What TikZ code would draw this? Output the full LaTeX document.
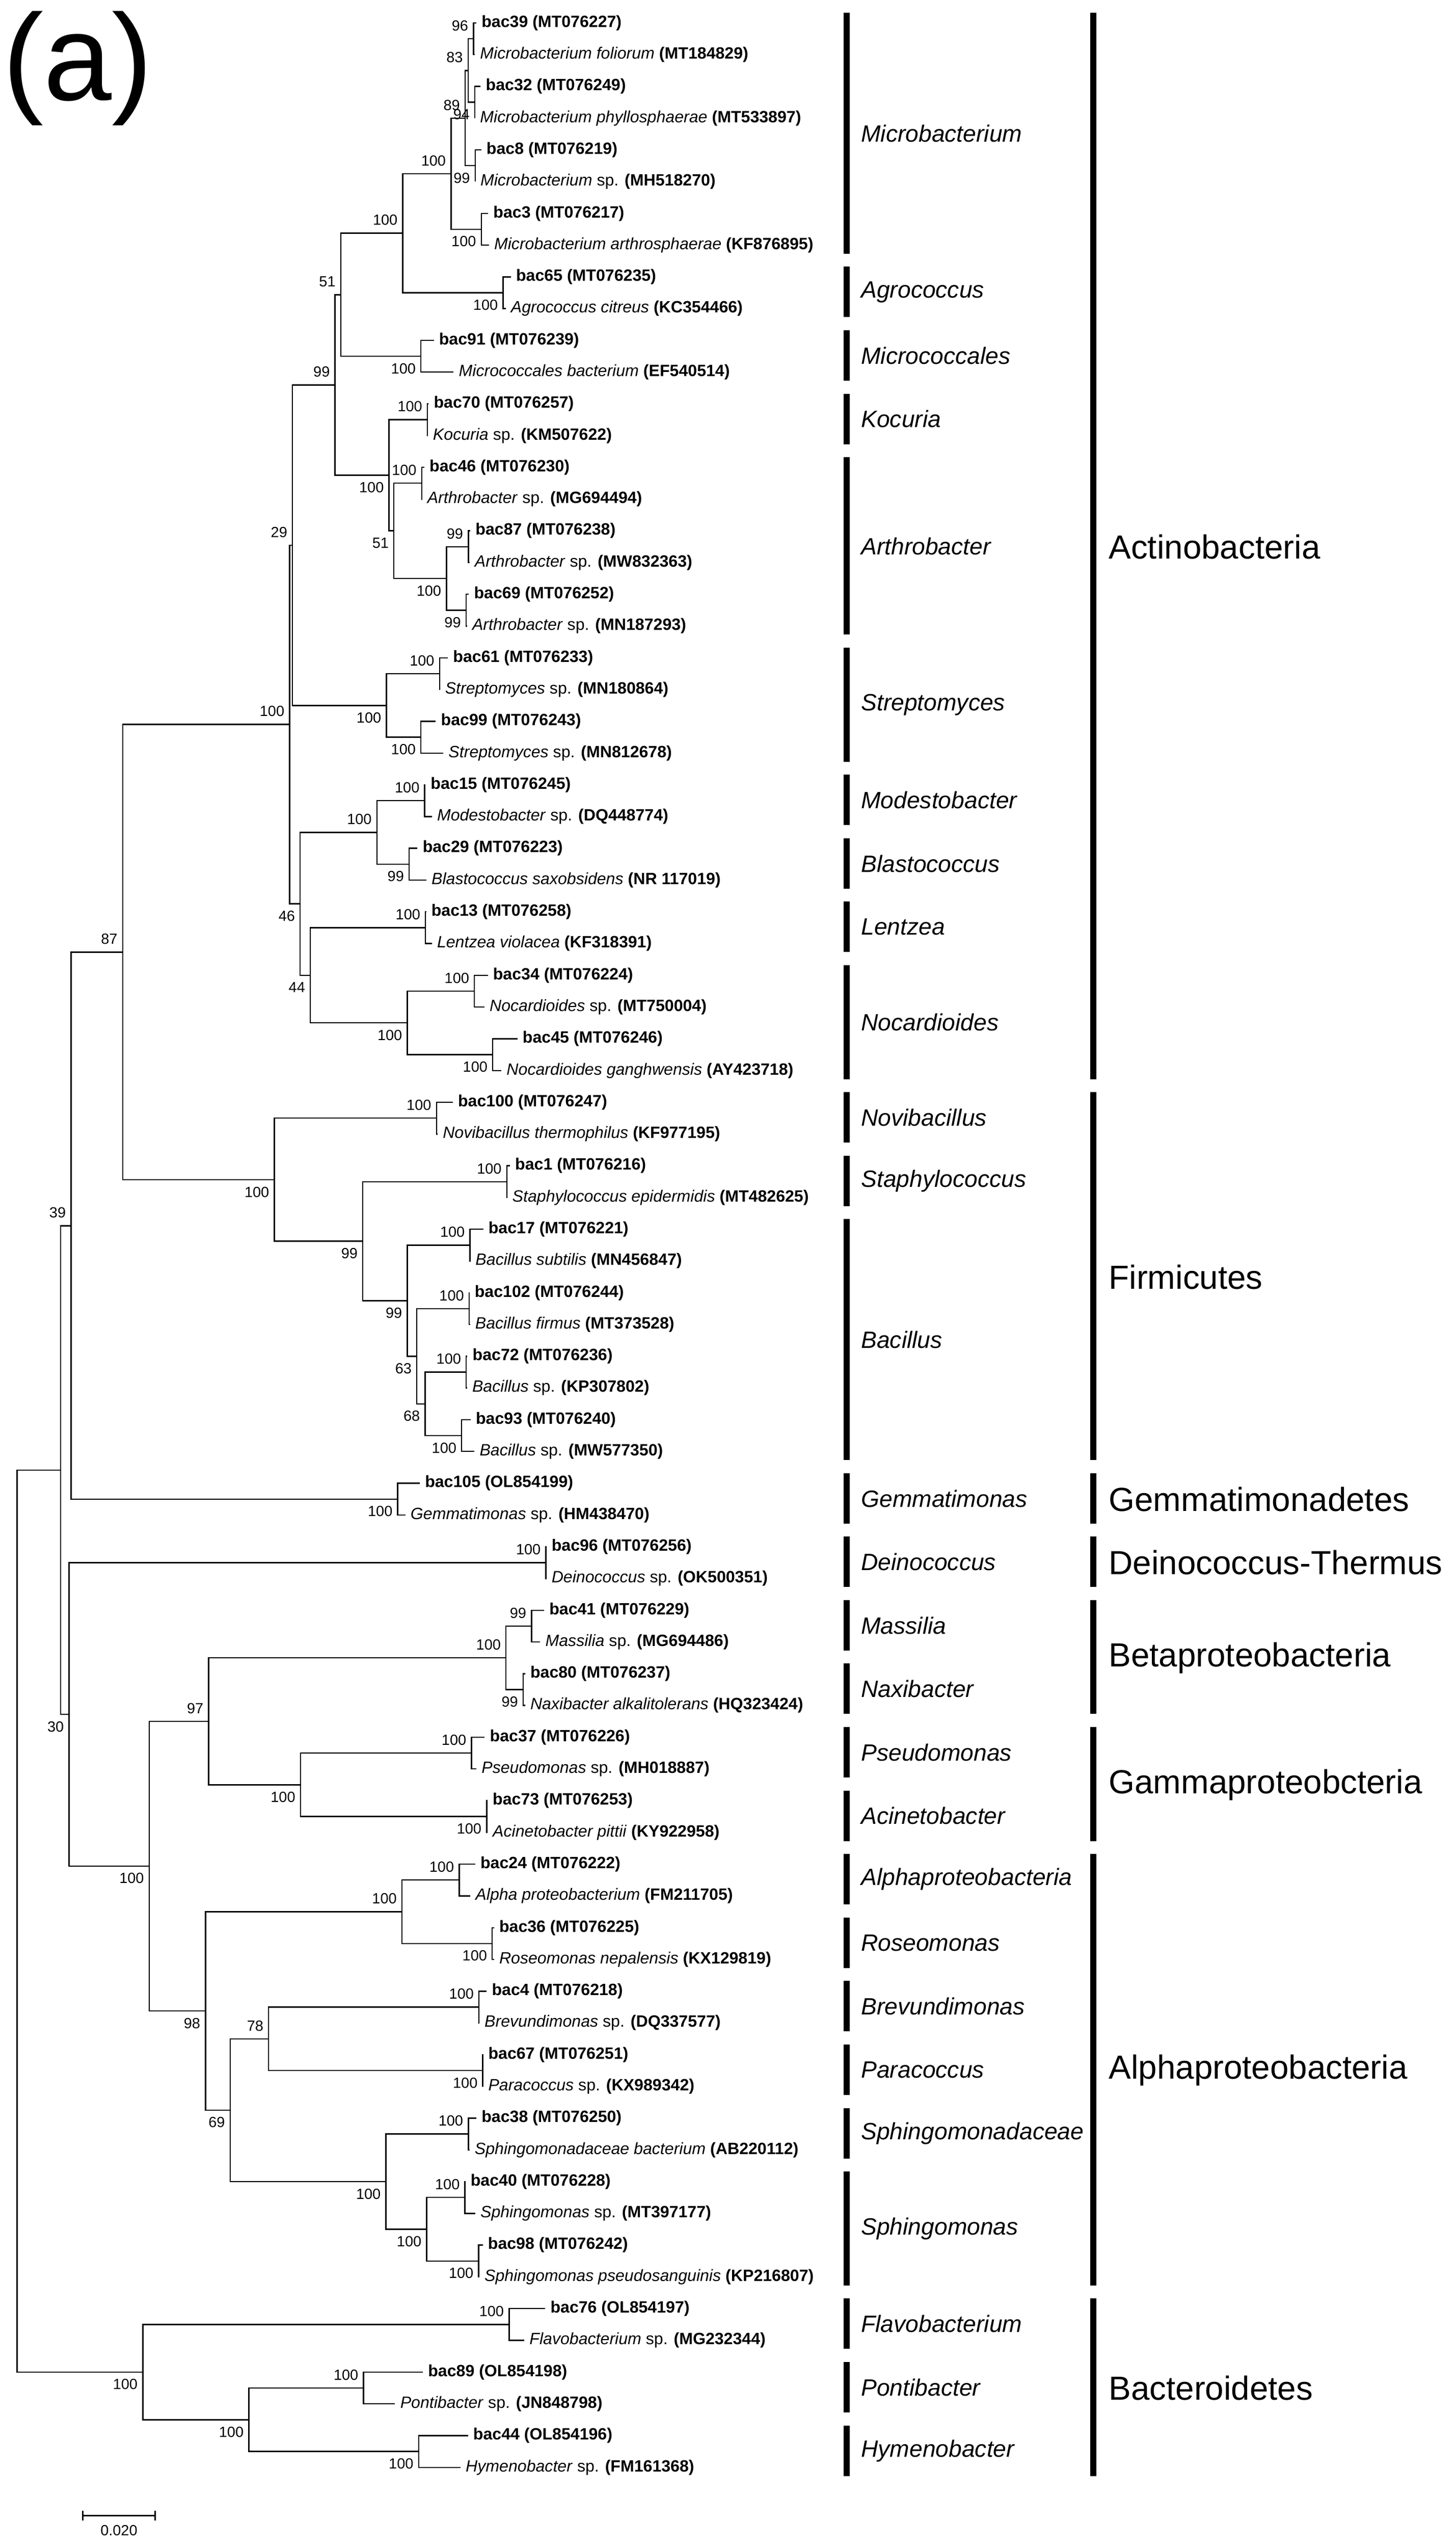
\documentclass[tikz,border=0pt]{standalone}
\usepackage{fontspec}
\setmainfont{Liberation Sans}
\newcommand\lbac[2]{\textbf{#1 (#2)}}
\newcommand\lspe[2]{\textit{#1} \textbf{(#2)}}
\newcommand\lspp[2]{\textit{#1} sp. \textbf{(#2)}}
\tikzset{
  br/.style={line width=0.75pt},
  leaf/.style={anchor=west,inner sep=0pt,xshift=3pt,font=\fontsize{10}{12}\selectfont},
  bsa/.style={anchor=east,inner sep=0pt,xshift=-3pt,yshift=8pt,font=\fontsize{9}{10}\selectfont},
  bsb/.style={anchor=east,inner sep=0pt,xshift=-3pt,yshift=-7.5pt,font=\fontsize{9}{10}\selectfont},
  cbar/.style={line width=3.9pt},
  cname/.style={anchor=west,inner sep=0pt,font=\fontsize{14.4}{16}\selectfont\itshape},
  pname/.style={anchor=west,inner sep=0pt,font=\fontsize{20.4}{22}\selectfont},
}
\newcommand\lf[4]{\coordinate (#1) at (#2,#3); \node[leaf] (#1L) at (#1) {#4};}
\newcommand\bn[5]{\coordinate (#1) at (#2,#3); \node[bs#5] (#1b) at (#1) {#4};}
\newcommand\ee[3]{\draw[br] (#1) |- (#2); \draw[br] (#1) |- (#3);}
\newcommand\clade[4]{\draw[cbar] (517.5,#2-0.32) coordinate (#1t) -- (517.5,#3+0.27) coordinate (#1e);
  \node[cname] (#1n) at (526.2,{(#2+#3)/2-0.02}) {#4};}
\newcommand\phyl[4]{\draw[cbar] (668.3,#2-0.32) coordinate (#1t) -- (668.3,#3+0.27) coordinate (#1e);
  \node[pname] (#1n) at (677.6,{(#2+#3)/2}) {#4};}
\begin{document}
\begin{tikzpicture}[x=1pt,y=1pt]
\useasboundingbox (0,0) rectangle (890,-1557.1);
\fill[white] (0,0) rectangle (890,-1557.1);
\node[anchor=base west,inner sep=0pt,font=\fontsize{75}{80}\selectfont] (alab) at (1.5,-61.2) {(a)};
\begin{scope}[x=1pt,y=-19.4pt,yshift=5.4pt]
% leaves
\lf{L1}{291.2}{1}{\lbac{bac39}{MT076227}}
\lf{L2}{290.3}{2}{\lspe{Microbacterium foliorum}{MT184829}}
\lf{L3}{293.8}{3}{\lbac{bac32}{MT076249}}
\lf{L4}{290.3}{4}{\lspe{Microbacterium phyllosphaerae}{MT533897}}
\lf{L5}{294.2}{5}{\lbac{bac8}{MT076219}}
\lf{L6}{290.5}{6}{\lspp{Microbacterium}{MH518270}}
\lf{L7}{298.4}{7}{\lbac{bac3}{MT076217}}
\lf{L8}{298.9}{8}{\lspe{Microbacterium arthrosphaerae}{KF876895}}
\lf{L9}{312.3}{9}{\lbac{bac65}{MT076235}}
\lf{L10}{309.1}{10}{\lspe{Agrococcus citreus}{KC354466}}
\lf{L11}{265.2}{11}{\lbac{bac91}{MT076239}}
\lf{L12}{277.3}{12}{\lspe{Micrococcales bacterium}{EF540514}}
\lf{L13}{262}{13}{\lbac{bac70}{MT076257}}
\lf{L14}{261.5}{14}{\lspp{Kocuria}{KM507622}}
\lf{L15}{259.4}{15}{\lbac{bac46}{MT076230}}
\lf{L16}{258}{16}{\lspp{Arthrobacter}{MG694494}}
\lf{L17}{287.5}{17}{\lbac{bac87}{MT076238}}
\lf{L18}{287}{18}{\lspp{Arthrobacter}{MW832363}}
\lf{L19}{286.6}{19}{\lbac{bac69}{MT076252}}
\lf{L20}{285.5}{20}{\lspp{Arthrobacter}{MN187293}}
\lf{L21}{273.8}{21}{\lbac{bac61}{MT076233}}
\lf{L22}{268.9}{22}{\lspp{Streptomyces}{MN180864}}
\lf{L23}{266.4}{23}{\lbac{bac99}{MT076243}}
\lf{L24}{271}{24}{\lspp{Streptomyces}{MN812678}}
\lf{L25}{260.1}{25}{\lbac{bac15}{MT076245}}
\lf{L26}{264}{26}{\lspp{Modestobacter}{DQ448774}}
\lf{L27}{255.2}{27}{\lbac{bac29}{MT076223}}
\lf{L28}{260.6}{28}{\lspe{Blastococcus saxobsidens}{NR 117019}}
\lf{L29}{260.5}{29}{\lbac{bac13}{MT076258}}
\lf{L30}{264}{30}{\lspe{Lentzea violacea}{KF318391}}
\lf{L31}{298.2}{31}{\lbac{bac34}{MT076224}}
\lf{L32}{296.1}{32}{\lspp{Nocardioides}{MT750004}}
\lf{L33}{316.3}{33}{\lbac{bac45}{MT076246}}
\lf{L34}{306.5}{34}{\lspe{Nocardioides ganghwensis}{AY423718}}
\lf{L35}{276.8}{35}{\lbac{bac100}{MT076247}}
\lf{L36}{267.5}{36}{\lspe{Novibacillus thermophilus}{KF977195}}
\lf{L37}{311.7}{37}{\lbac{bac1}{MT076216}}
\lf{L38}{310}{38}{\lspe{Staphylococcus epidermidis}{MT482625}}
\lf{L39}{295.4}{39}{\lbac{bac17}{MT076221}}
\lf{L40}{287.5}{40}{\lspe{Bacillus subtilis}{MN456847}}
\lf{L41}{287}{41}{\lbac{bac102}{MT076244}}
\lf{L42}{287.3}{42}{\lspe{Bacillus firmus}{MT373528}}
\lf{L43}{285.7}{43}{\lbac{bac72}{MT076236}}
\lf{L44}{285.5}{44}{\lspp{Bacillus}{KP307802}}
\lf{L45}{287.7}{45}{\lbac{bac93}{MT076240}}
\lf{L46}{290}{46}{\lspp{Bacillus}{MW577350}}
\lf{L47}{256.6}{47}{\lbac{bac105}{OL854199}}
\lf{L48}{247.8}{48}{\lspp{Gemmatimonas}{HM438470}}
\lf{L49}{334}{49}{\lbac{bac96}{MT076256}}
\lf{L50}{334}{50}{\lspp{Deinococcus}{OK500351}}
\lf{L51}{332.6}{51}{\lbac{bac41}{MT076229}}
\lf{L52}{330.2}{52}{\lspp{Massilia}{MG694486}}
\lf{L53}{321}{53}{\lbac{bac80}{MT076237}}
\lf{L54}{321}{54}{\lspe{Naxibacter alkalitolerans}{HQ323424}}
\lf{L55}{296.3}{55}{\lbac{bac37}{MT076226}}
\lf{L56}{291.2}{56}{\lspp{Pseudomonas}{MH018887}}
\lf{L57}{298}{57}{\lbac{bac73}{MT076253}}
\lf{L58}{298}{58}{\lspe{Acinetobacter pittii}{KY922958}}
\lf{L59}{290.5}{59}{\lbac{bac24}{MT076222}}
\lf{L60}{287.5}{60}{\lspe{Alpha proteobacterium}{FM211705}}
\lf{L61}{302}{61}{\lbac{bac36}{MT076225}}
\lf{L62}{302}{62}{\lspe{Roseomonas nepalensis}{KX129819}}
\lf{L63}{297.5}{63}{\lbac{bac4}{MT076218}}
\lf{L64}{293}{64}{\lspp{Brevundimonas}{DQ337577}}
\lf{L65}{295.3}{65}{\lbac{bac67}{MT076251}}
\lf{L66}{295.3}{66}{\lspp{Paracoccus}{KX989342}}
\lf{L67}{291.2}{67}{\lbac{bac38}{MT076250}}
\lf{L68}{287}{68}{\lspe{Sphingomonadaceae bacterium}{AB220112}}
\lf{L69}{284.5}{69}{\lbac{bac40}{MT076228}}
\lf{L70}{290.5}{70}{\lspp{Sphingomonas}{MT397177}}
\lf{L71}{295.1}{71}{\lbac{bac98}{MT076242}}
\lf{L72}{293}{72}{\lspe{Sphingomonas pseudosanguinis}{KP216807}}
\lf{L73}{333.3}{73}{\lbac{bac76}{OL854197}}
\lf{L74}{320.5}{74}{\lspp{Flavobacterium}{MG232344}}
\lf{L75}{258.5}{75}{\lbac{bac89}{OL854198}}
\lf{L76}{241.5}{76}{\lspp{Pontibacter}{JN848798}}
\lf{L77}{286.1}{77}{\lbac{bac44}{OL854196}}
\lf{L78}{281.5}{78}{\lspp{Hymenobacter}{FM161368}}
% internal nodes
\bn{n96}{289.4}{1.5}{96}{a}
\bn{n94}{290.3}{3.5}{94}{b}
\bn{n83}{286.1}{2.5}{83}{a}
\bn{n99a}{290.5}{5.5}{99}{b}
\bn{n89}{284.3}{4}{89}{a}
\bn{nb3}{294.2}{7.5}{100}{b}
\bn{nMi}{275.7}{5.75}{100}{a}
\bn{nAg}{307.5}{9.5}{100}{b}
\bn{nMA}{246.2}{7.625}{100}{a}
\bn{nMc}{257.3}{11.5}{100}{b}
\bn{n51}{208.3}{9.5625}{51}{a}
\bn{nKo}{261.3}{13.5}{100}{a}
\bn{nA46}{257.8}{15.5}{100}{a}
\bn{nA87}{286.3}{17.5}{99}{a}
\bn{nA69}{284.9}{19.5}{99}{b}
\bn{nA100}{272.9}{18.5}{100}{b}
\bn{nA51}{240.8}{17}{51}{b}
\bn{nKA}{237.8}{15.25}{100}{b}
\bn{n99b}{204.8}{12.406}{99}{a}
\bn{nS61}{268.7}{21.5}{100}{a}
\bn{nS99}{257.3}{23.5}{100}{b}
\bn{nSt}{236.2}{22.5}{100}{b}
\bn{n29}{178.8}{17.453}{29}{a}
\bn{nMo}{259.6}{25.5}{100}{a}
\bn{nBl}{250.1}{27.5}{99}{b}
\bn{nMB}{230.4}{26.5}{100}{a}
\bn{nLe}{260.1}{29.5}{100}{a}
\bn{nN34}{290}{31.5}{100}{a}
\bn{nN45}{301.2}{33.5}{100}{b}
\bn{nNo}{249}{32.5}{100}{b}
\bn{n44}{189.7}{31}{44}{b}
\bn{n46}{183.5}{28.75}{46}{b}
\bn{nAc}{177}{23.10}{100}{a}
\bn{nNv}{266.8}{35.5}{100}{a}
\bn{nSa}{309.8}{37.5}{100}{a}
\bn{nB17}{287.3}{39.5}{100}{a}
\bn{nB102}{286.8}{41.5}{100}{a}
\bn{nB72}{285}{43.5}{100}{a}
\bn{nB93}{282.2}{45.5}{100}{b}
\bn{n68}{259.9}{44.5}{68}{b}
\bn{n63}{254.8}{43}{63}{b}
\bn{nBa}{249}{41.25}{99}{b}
\bn{nSB}{221.8}{39.375}{99}{b}
\bn{nFi}{167.7}{37.44}{100}{b}
\bn{nAF}{75}{30.27}{87}{a}
\bn{nGe}{243.1}{47.5}{100}{b}
\bn{nB}{43.4}{38.89}{39}{a}
\bn{nDe}{333.7}{49.5}{100}{a}
\bn{nMs}{324.9}{51.5}{99}{a}
\bn{nNx}{319.8}{53.5}{99}{b}
\bn{nBe}{309.3}{52.5}{100}{a}
\bn{nPs}{288.2}{55.5}{100}{a}
\bn{nAi}{297.5}{57.5}{100}{b}
\bn{nGa}{183.7}{56.5}{100}{b}
\bn{n97}{127.5}{54.5}{97}{a}
\bn{nA24}{280.7}{59.5}{100}{a}
\bn{nR36}{300.9}{61.5}{100}{b}
\bn{nAR}{245.7}{60.5}{100}{a}
\bn{nBv}{292.8}{63.5}{100}{a}
\bn{nPa}{295.1}{65.5}{100}{b}
\bn{n78}{164.2}{64.5}{78}{a}
\bn{nS38}{286.3}{67.5}{100}{a}
\bn{nS40}{284.2}{69.5}{100}{a}
\bn{nS98}{292.6}{71.5}{100}{b}
\bn{nSb}{260.8}{70.5}{100}{b}
\bn{nSp}{235.9}{69}{100}{b}
\bn{n69}{140.7}{66.75}{69}{b}
\bn{n98}{125.6}{63.625}{98}{b}
\bn{nPr}{91.2}{59.06}{100}{b}
\bn{nC}{42.2}{54.28}{30}{b}
\coordinate (nA) at (37,46.59);
\bn{nFl}{311.2}{73.5}{100}{a}
\bn{nPo}{222.2}{75.5}{100}{a}
\bn{nHy}{255.9}{77.5}{100}{b}
\bn{nPH}{152.1}{76.5}{100}{b}
\bn{nBd}{87.3}{75}{100}{b}
\coordinate (root) at (10.4,60.8);
% edges
\ee{root}{nA}{nBd}
\ee{nA}{nB}{nC}
\ee{nB}{nAF}{nGe}
\ee{nAF}{nAc}{nFi}
\ee{nAc}{n29}{n46}
\ee{n29}{n99b}{nSt}
\ee{n99b}{n51}{nKA}
\ee{n51}{nMA}{nMc}
\ee{nMA}{nMi}{nAg}
\ee{nMi}{n89}{nb3}
\ee{n89}{n83}{n99a}
\ee{n83}{n96}{n94}
\ee{n96}{L1}{L2}
\ee{n94}{L3}{L4}
\ee{n99a}{L5}{L6}
\ee{nb3}{L7}{L8}
\ee{nAg}{L9}{L10}
\ee{nMc}{L11}{L12}
\ee{nKA}{nKo}{nA51}
\ee{nKo}{L13}{L14}
\ee{nA51}{nA46}{nA100}
\ee{nA46}{L15}{L16}
\ee{nA100}{nA87}{nA69}
\ee{nA87}{L17}{L18}
\ee{nA69}{L19}{L20}
\ee{nSt}{nS61}{nS99}
\ee{nS61}{L21}{L22}
\ee{nS99}{L23}{L24}
\ee{n46}{nMB}{n44}
\ee{nMB}{nMo}{nBl}
\ee{nMo}{L25}{L26}
\ee{nBl}{L27}{L28}
\ee{n44}{nLe}{nNo}
\ee{nLe}{L29}{L30}
\ee{nNo}{nN34}{nN45}
\ee{nN34}{L31}{L32}
\ee{nN45}{L33}{L34}
\ee{nFi}{nNv}{nSB}
\ee{nNv}{L35}{L36}
\ee{nSB}{nSa}{nBa}
\ee{nSa}{L37}{L38}
\ee{nBa}{nB17}{n63}
\ee{nB17}{L39}{L40}
\ee{n63}{nB102}{n68}
\ee{nB102}{L41}{L42}
\ee{n68}{nB72}{nB93}
\ee{nB72}{L43}{L44}
\ee{nB93}{L45}{L46}
\ee{nGe}{L47}{L48}
\ee{nC}{nDe}{nPr}
\ee{nDe}{L49}{L50}
\ee{nPr}{n97}{n98}
\ee{n97}{nBe}{nGa}
\ee{nBe}{nMs}{nNx}
\ee{nMs}{L51}{L52}
\ee{nNx}{L53}{L54}
\ee{nGa}{nPs}{nAi}
\ee{nPs}{L55}{L56}
\ee{nAi}{L57}{L58}
\ee{n98}{nAR}{n69}
\ee{nAR}{nA24}{nR36}
\ee{nA24}{L59}{L60}
\ee{nR36}{L61}{L62}
\ee{n69}{n78}{nSp}
\ee{n78}{nBv}{nPa}
\ee{nBv}{L63}{L64}
\ee{nPa}{L65}{L66}
\ee{nSp}{nS38}{nSb}
\ee{nS38}{L67}{L68}
\ee{nSb}{nS40}{nS98}
\ee{nS40}{L69}{L70}
\ee{nS98}{L71}{L72}
\ee{nBd}{nFl}{nPH}
\ee{nFl}{L73}{L74}
\ee{nPH}{nPo}{nHy}
\ee{nPo}{L75}{L76}
\ee{nHy}{L77}{L78}
% clades
\clade{cMic}{1}{8}{Microbacterium}
\clade{cAgr}{9}{10}{Agrococcus}
\clade{cMcc}{11}{12}{Micrococcales}
\clade{cKoc}{13}{14}{Kocuria}
\clade{cArt}{15}{20}{Arthrobacter}
\clade{cStr}{21}{24}{Streptomyces}
\clade{cMod}{25}{26}{Modestobacter}
\clade{cBla}{27}{28}{Blastococcus}
\clade{cLen}{29}{30}{Lentzea}
\clade{cNoc}{31}{34}{Nocardioides}
\clade{cNov}{35}{36}{Novibacillus}
\clade{cSta}{37}{38}{Staphylococcus}
\clade{cBac}{39}{46}{Bacillus}
\clade{cGem}{47}{48}{Gemmatimonas}
\clade{cDei}{49}{50}{Deinococcus}
\clade{cMas}{51}{52}{Massilia}
\clade{cNax}{53}{54}{Naxibacter}
\clade{cPse}{55}{56}{Pseudomonas}
\clade{cAci}{57}{58}{Acinetobacter}
\clade{cAlp}{59}{60}{Alphaproteobacteria}
\clade{cRos}{61}{62}{Roseomonas}
\clade{cBre}{63}{64}{Brevundimonas}
\clade{cPar}{65}{66}{Paracoccus}
\clade{cSpc}{67}{68}{Sphingomonadaceae}
\clade{cSph}{69}{72}{Sphingomonas}
\clade{cFla}{73}{74}{Flavobacterium}
\clade{cPon}{75}{76}{Pontibacter}
\clade{cHym}{77}{78}{Hymenobacter}
% phyla
\phyl{pAct}{1}{34}{Actinobacteria}
\phyl{pFir}{35}{46}{Firmicutes}
\phyl{pGem}{47}{48}{Gemmatimonadetes}
\phyl{pDei}{49}{50}{Deinococcus-Thermus}
\phyl{pBet}{51}{54}{Betaproteobacteria}
\phyl{pGam}{55}{58}{Gammaproteobcteria}
\phyl{pAlp}{59}{72}{Alphaproteobacteria}
\phyl{pBct}{73}{78}{Bacteroidetes}
\end{scope}
% scale bar
\coordinate (sb1) at (50.6,-1537.3);
\coordinate (sb2) at (94.8,-1537.3);
\draw[br] (sb1) -- (sb2);
\draw[br] ([yshift=3pt]sb1) -- ([yshift=-3pt]sb1);
\draw[br] ([yshift=3pt]sb2) -- ([yshift=-3pt]sb2);
\node[inner sep=0pt,font=\fontsize{9}{10}\selectfont] (sbl) at (72.7,-1546.5) {0.020};
\end{tikzpicture}
\end{document}
